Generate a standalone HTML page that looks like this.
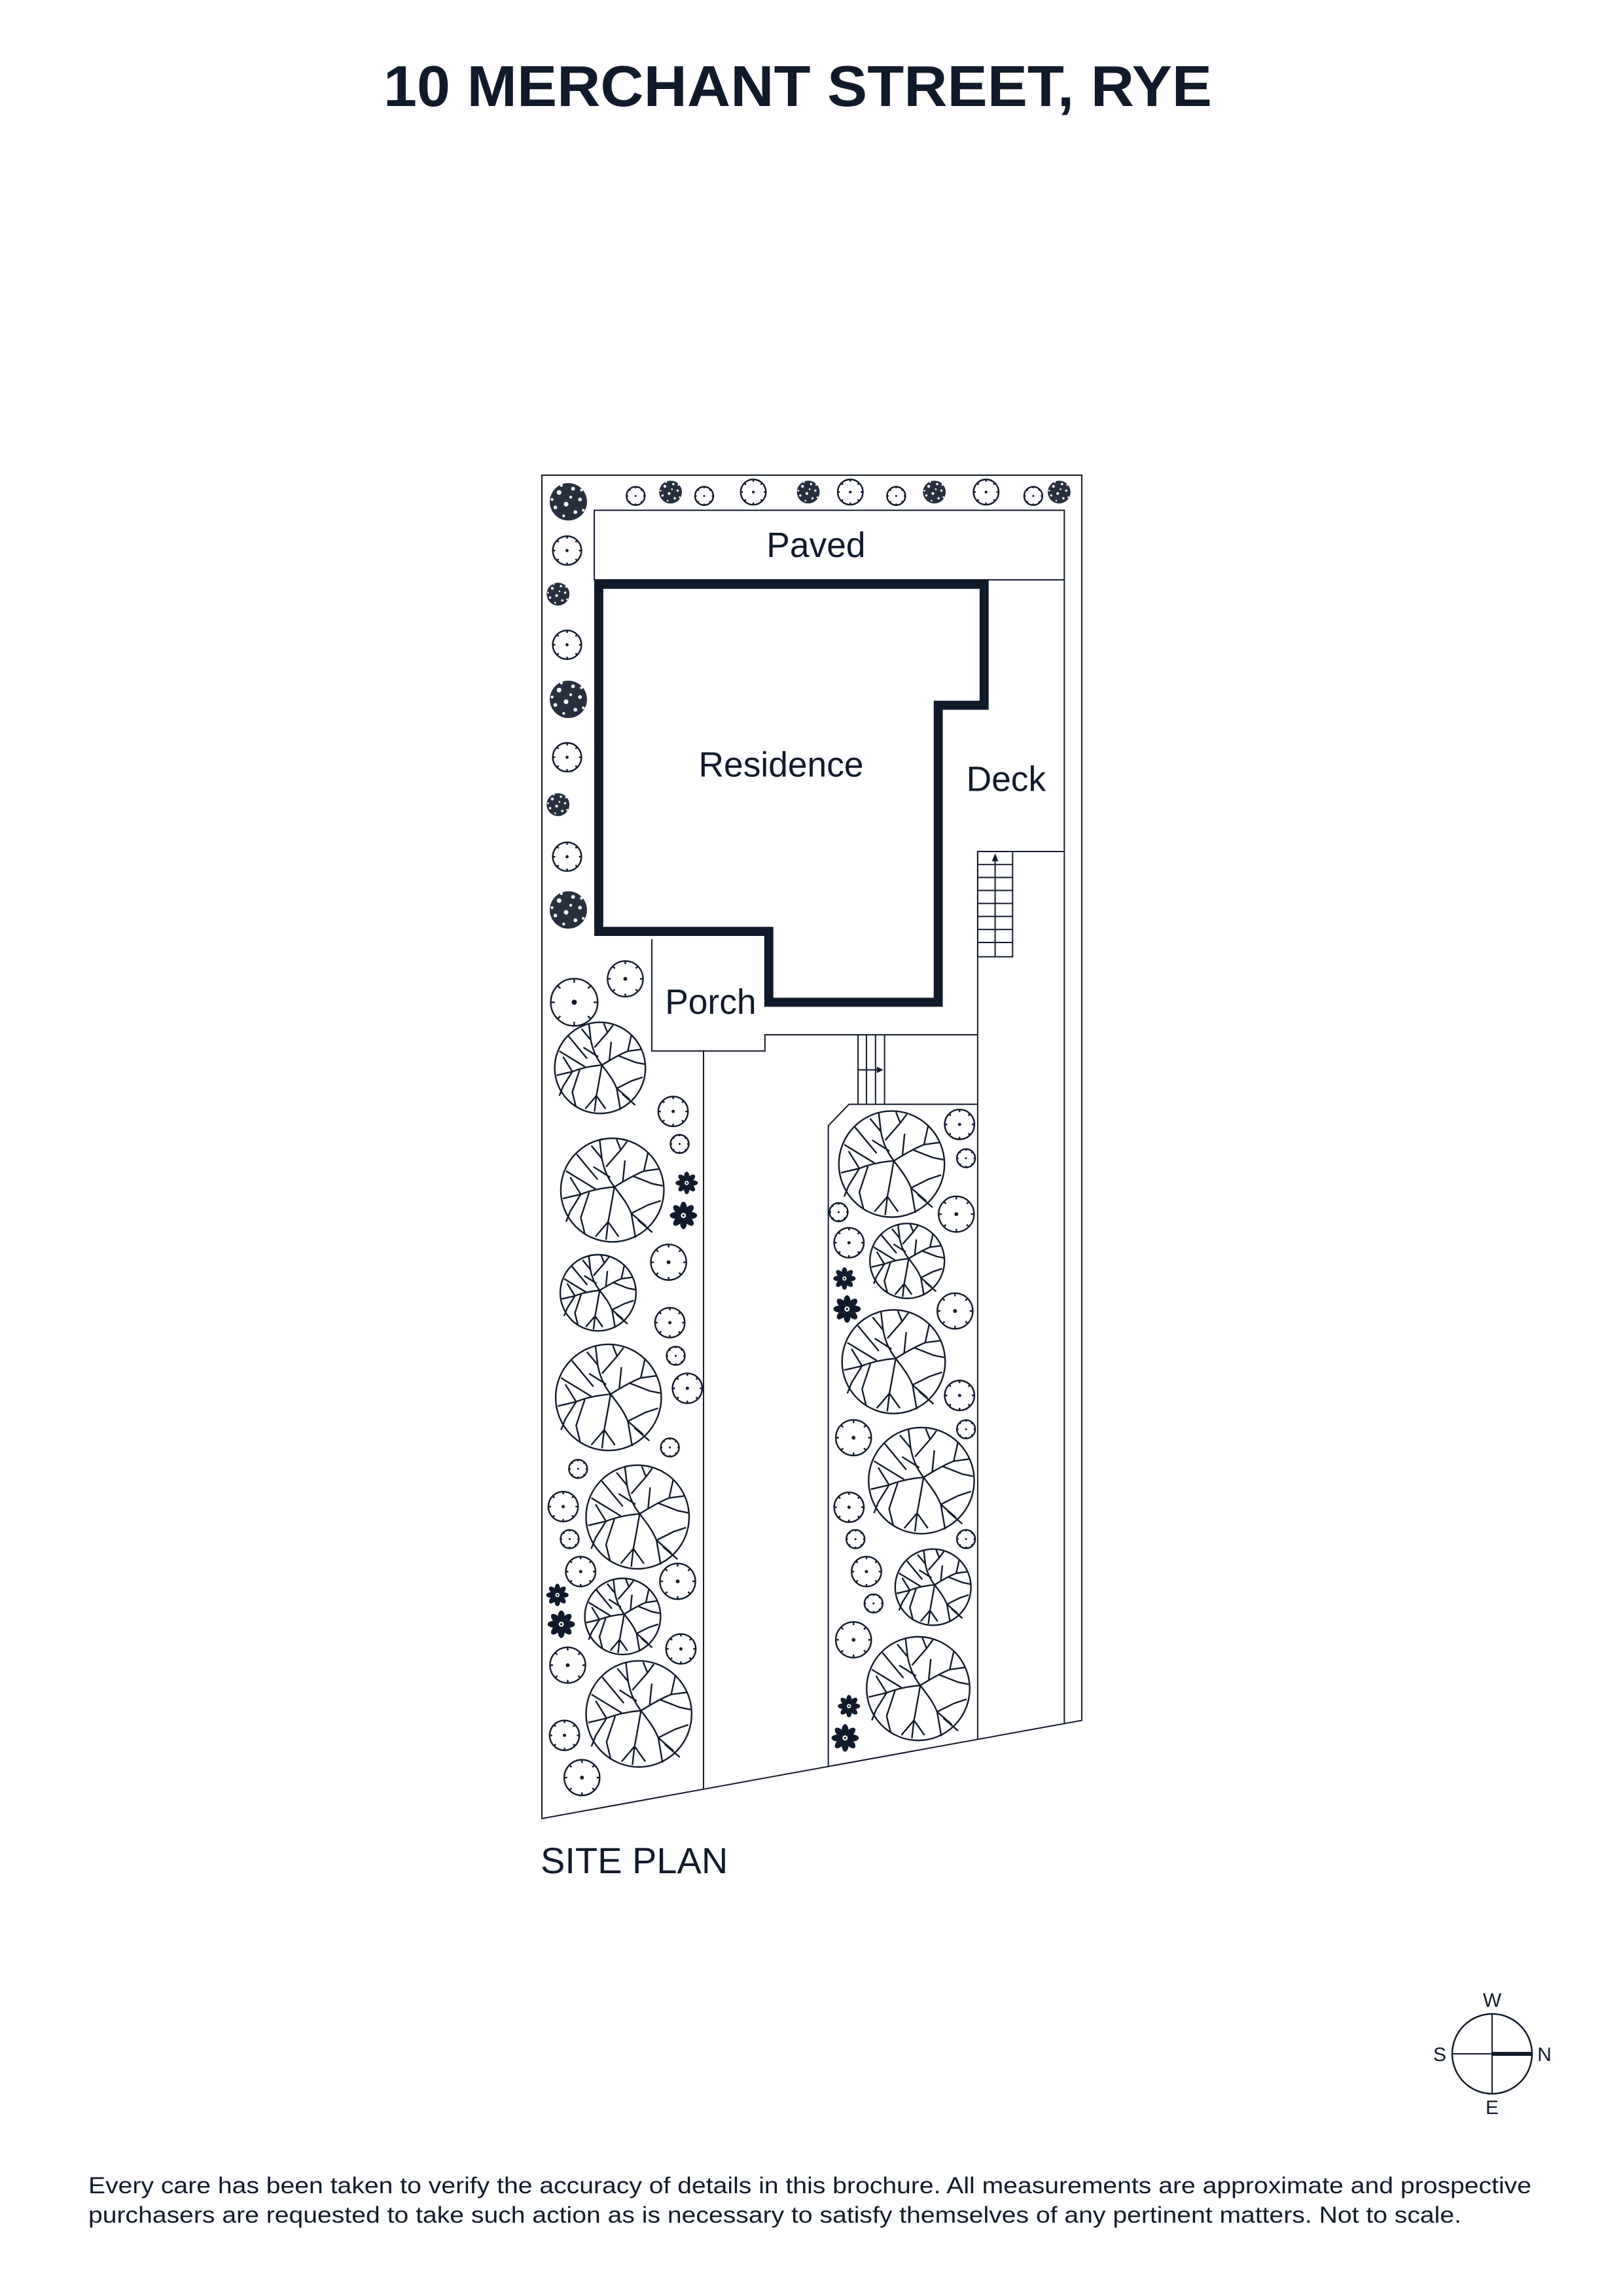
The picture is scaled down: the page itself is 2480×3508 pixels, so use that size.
<!DOCTYPE html>
<html><head><meta charset="utf-8"><style>
html,body{margin:0;padding:0;background:#fff}
svg{display:block}
</style></head><body>
<svg width="2480" height="3508" viewBox="0 0 2480 3508" xmlns="http://www.w3.org/2000/svg" xmlns:xlink="http://www.w3.org/1999/xlink">
<defs>
<symbol id="bt" viewBox="-51 -51 102 102">
<g fill="none" stroke="#111a2a" stroke-width="2.4" vector-effect="non-scaling-stroke">
<circle r="49" vector-effect="non-scaling-stroke"/>
<path vector-effect="non-scaling-stroke" d="M2,-3 C-5,-12 -8,-20 -10,-30 L-12,-47 M-10,-30 L-20,-42 M-6,-22 L8,-38 L4,-48 M8,-38 L14,-46 M2,-3 C10,-8 20,-14 30,-18 L45,-20 M30,-18 L34,-36 M20,-13 L38,-6 L48,-4 M2,-3 C8,5 14,12 18,22 L22,45 M18,22 L34,14 L46,10 M18,22 L32,34 M24,28 L38,40 M2,-3 C0,8 -2,20 -4,30 L-6,47 M-4,30 L-16,44 M-4,30 L6,44 M2,-3 C-10,-2 -20,0 -30,4 L-47,8 M-30,4 L-40,-12 M-30,4 L-40,20 L-44,30 M-22,2 L-30,26 L-26,42 M-16,-1 L-44,-18 M-14,-10 L-34,-34 M10,-8 L12,-28 M-2,-12 L-18,-22"/>
</g>
</symbol>
<symbol id="sh" viewBox="-52 -52 104 104">
<g fill="none" stroke="#111a2a">
<circle r="46" stroke-width="2.4" vector-effect="non-scaling-stroke"/>
<path stroke-width="2.4" vector-effect="non-scaling-stroke" d="M0,-46 L0,-38 M46,0 L38,0 M0,46 L0,38 M-46,0 L-38,0 M32,-32 L27,-27 M-32,32 L-27,27 M32,32 L27,27 M-32,-32 L-27,-27"/>
<circle r="5" fill="#111a2a" stroke="none"/>
</g>
</symbol>
<symbol id="db" viewBox="-50 -50 100 100">
<circle r="40" fill="#111a2a" opacity="0.9"/>
<g fill="#fff">
<circle cx="-20" cy="-20" r="5"/><circle cx="10" cy="-28" r="4"/><circle cx="25" cy="-5" r="4"/><circle cx="-5" cy="5" r="5"/><circle cx="-28" cy="12" r="4"/><circle cx="15" cy="22" r="4"/><circle cx="-10" cy="30" r="3"/><circle cx="32" cy="18" r="3"/><circle cx="-35" cy="-5" r="3"/><circle cx="5" cy="-10" r="3"/><circle cx="-15" cy="-35" r="3"/><circle cx="28" cy="-25" r="3"/>
</g>
</symbol>
<symbol id="fl" viewBox="-50 -50 100 100">
<g fill="#111a2a">
<ellipse cx="0" cy="-26" rx="12" ry="22"/>
<ellipse cx="0" cy="-26" rx="12" ry="22" transform="rotate(45)"/>
<ellipse cx="0" cy="-26" rx="12" ry="22" transform="rotate(90)"/>
<ellipse cx="0" cy="-26" rx="12" ry="22" transform="rotate(135)"/>
<ellipse cx="0" cy="-26" rx="12" ry="22" transform="rotate(180)"/>
<ellipse cx="0" cy="-26" rx="12" ry="22" transform="rotate(225)"/>
<ellipse cx="0" cy="-26" rx="12" ry="22" transform="rotate(270)"/>
<ellipse cx="0" cy="-26" rx="12" ry="22" transform="rotate(315)"/>
<circle r="9" fill="#fff"/><circle r="4"/>
</g>
</symbol>
</defs>

<text x="586" y="162" font-family="Liberation Sans, sans-serif" font-weight="bold" font-size="88" fill="#111a2a" textLength="1266" lengthAdjust="spacingAndGlyphs">10 MERCHANT STREET, RYE</text>

<g transform="translate(828,726) scale(0.988,0.993) translate(-828,-726)">
<g fill="none" stroke="#111a2a" stroke-width="2">
<path d="M828,726 L1663,726 L1663,2642 L828,2793 Z"/>
<rect x="909" y="780" width="727" height="107"/>
<path d="M1636,887 L1636,2646"/>
<path d="M1502,1305 L1636,1305 M1502,1305 L1502,2671"/>
<rect x="1502" y="1305" width="54" height="162"/>
<path d="M1529,1312 L1529,1467"/>
<path d="M1502,1325 H1556 M1502,1345 H1556 M1502,1365 H1556 M1502,1385 H1556 M1502,1405 H1556 M1502,1425 H1556 M1502,1445 H1556"/>
<path d="M998,1440 L998,1612 L1173,1612 L1173,1587 L1502,1587"/>
<path d="M1078,1612 L1078,2748"/>
<path d="M1271,2714 L1271,1727 L1303,1694 L1502,1694"/>
<path d="M1317,1587 L1317,1694 M1330,1587 L1330,1694 M1344,1587 L1344,1694 M1358,1587 L1358,1694 M1317,1641 L1352,1641"/>
</g>
<path d="M1524,1320 L1529,1308 L1534,1320 Z" fill="#111a2a"/>
<path d="M1346,1636 L1356,1641 L1346,1646 Z" fill="#111a2a"/>

<path d="M916,894 L1512,894 L1512,1080 L1441,1080 L1441,1537 L1179,1537 L1179,1428 L916,1428 Z" fill="none" stroke="#111a2a" stroke-width="14"/>

<g font-family="Liberation Sans, sans-serif" font-size="54" fill="#111a2a" text-anchor="middle">
<text x="1252" y="852">Paved</text>
<text x="1198" y="1190">Residence</text>
<text x="1546" y="1212">Deck</text>
<text x="1089" y="1555">Porch</text>
</g>

<use href="#db" x="833" y="731" width="72" height="72"/>
<use href="#sh" x="957" y="742" width="32" height="32"/>
<use href="#db" x="1005" y="730" width="44" height="44"/>
<use href="#sh" x="1063" y="742" width="32" height="32"/>
<use href="#sh" x="1133" y="730" width="44" height="44"/>
<use href="#db" x="1218" y="730" width="44" height="44"/>
<use href="#sh" x="1283" y="730" width="44" height="44"/>
<use href="#sh" x="1360" y="742" width="32" height="32"/>
<use href="#db" x="1413" y="730" width="44" height="44"/>
<use href="#sh" x="1493" y="730" width="44" height="44"/>
<use href="#sh" x="1572" y="742" width="32" height="32"/>
<use href="#db" x="1606" y="730" width="44" height="44"/>
<use href="#sh" x="842" y="817" width="50" height="50"/>
<use href="#db" x="831" y="887" width="44" height="44"/>
<use href="#sh" x="842" y="962" width="50" height="50"/>
<use href="#db" x="833" y="1035" width="72" height="72"/>
<use href="#sh" x="842" y="1135" width="50" height="50"/>
<use href="#db" x="831" y="1211" width="44" height="44"/>
<use href="#sh" x="842" y="1288" width="50" height="50"/>
<use href="#db" x="833" y="1359" width="72" height="72"/>
<use href="#sh" x="837" y="1496" width="82" height="82"/>
<use href="#sh" x="926" y="1470" width="62" height="62"/>

<use href="#bt" x="845" y="1565" width="146" height="146"/>
<use href="#bt" x="854" y="1743" width="166" height="166"/>
<use href="#bt" x="854" y="1923" width="122" height="122"/>
<use href="#bt" x="846" y="2060" width="170" height="170"/>
<use href="#bt" x="893" y="2246" width="166" height="166"/>
<use href="#bt" x="892" y="2421" width="122" height="122"/>
<use href="#bt" x="893" y="2547" width="170" height="170"/>
<use href="#sh" x="1005" y="1679" width="52" height="52"/>
<use href="#sh" x="1025" y="1739" width="32" height="32"/>
<use href="#sh" x="993" y="1906" width="62" height="62"/>
<use href="#sh" x="1000" y="2004" width="52" height="52"/>
<use href="#sh" x="1019" y="2065" width="32" height="32"/>
<use href="#sh" x="1027" y="2105" width="52" height="52"/>
<use href="#sh" x="1010" y="2206" width="32" height="32"/>
<use href="#sh" x="868" y="2239" width="32" height="32"/>
<use href="#sh" x="835" y="2287" width="52" height="52"/>
<use href="#sh" x="855" y="2347" width="32" height="32"/>
<use href="#sh" x="862" y="2387" width="52" height="52"/>
<use href="#sh" x="1007" y="2397" width="62" height="62"/>
<use href="#sh" x="837" y="2526" width="62" height="62"/>
<use href="#sh" x="1017" y="2506" width="52" height="52"/>
<use href="#sh" x="837" y="2639" width="52" height="52"/>
<use href="#sh" x="859" y="2699" width="62" height="62"/>
<use href="#fl" x="1034" y="1797" width="36" height="36"/>
<use href="#fl" x="1025" y="1843" width="44" height="44"/>
<use href="#fl" x="834" y="2431" width="36" height="36"/>
<use href="#fl" x="836" y="2472" width="44" height="44"/>

<use href="#bt" x="1284" y="1701" width="170" height="170"/>
<use href="#bt" x="1333" y="1875" width="120" height="120"/>
<use href="#bt" x="1289" y="2007" width="166" height="166"/>
<use href="#bt" x="1330" y="2188" width="170" height="170"/>
<use href="#bt" x="1372" y="2376" width="122" height="122"/>
<use href="#bt" x="1327" y="2510" width="166" height="166"/>
<use href="#sh" x="1448" y="1699" width="52" height="52"/>
<use href="#sh" x="1468" y="1761" width="32" height="32"/>
<use href="#sh" x="1438" y="1832" width="62" height="62"/>
<use href="#sh" x="1271" y="1844" width="32" height="32"/>
<use href="#sh" x="1277" y="1881" width="52" height="52"/>
<use href="#sh" x="1436" y="1981" width="62" height="62"/>
<use href="#sh" x="1448" y="2116" width="52" height="52"/>
<use href="#sh" x="1279" y="2176" width="62" height="62"/>
<use href="#sh" x="1468" y="2178" width="32" height="32"/>
<use href="#sh" x="1277" y="2288" width="52" height="52"/>
<use href="#sh" x="1297" y="2347" width="32" height="32"/>
<use href="#sh" x="1468" y="2347" width="32" height="32"/>
<use href="#sh" x="1304" y="2387" width="52" height="52"/>
<use href="#sh" x="1325" y="2446" width="32" height="32"/>
<use href="#sh" x="1279" y="2487" width="62" height="62"/>
<use href="#fl" x="1278" y="1944" width="36" height="36"/>
<use href="#fl" x="1278" y="1987" width="44" height="44"/>
<use href="#fl" x="1285" y="2602" width="36" height="36"/>
<use href="#fl" x="1275" y="2647" width="44" height="44"/>
</g>

<text x="826" y="2862" font-family="Liberation Sans, sans-serif" font-size="56" fill="#111a2a">SITE PLAN</text>

<g stroke="#111a2a" fill="none">
<circle cx="2280" cy="3138" r="61" stroke-width="2.5"/>
<path d="M2280,3077 L2280,3199 M2219,3138 L2280,3138" stroke-width="2"/>
<path d="M2280,3138 L2341,3138" stroke-width="6"/>
</g>
<g font-family="Liberation Sans, sans-serif" font-size="30" fill="#111a2a" text-anchor="middle">
<text x="2280" y="3066">W</text>
<text x="2360" y="3149">N</text>
<text x="2200" y="3149">S</text>
<text x="2280" y="3230">E</text>
</g>

<g font-family="Liberation Sans, sans-serif" font-size="35" fill="#111a2a">
<text x="135" y="3351" textLength="2205" lengthAdjust="spacingAndGlyphs">Every care has been taken to verify the accuracy of details in this brochure. All measurements are approximate and prospective</text>
<text x="135" y="3396" textLength="2098" lengthAdjust="spacingAndGlyphs">purchasers are requested to take such action as is necessary to satisfy themselves of any pertinent matters. Not to scale.</text>
</g>
</svg>
</body></html>
